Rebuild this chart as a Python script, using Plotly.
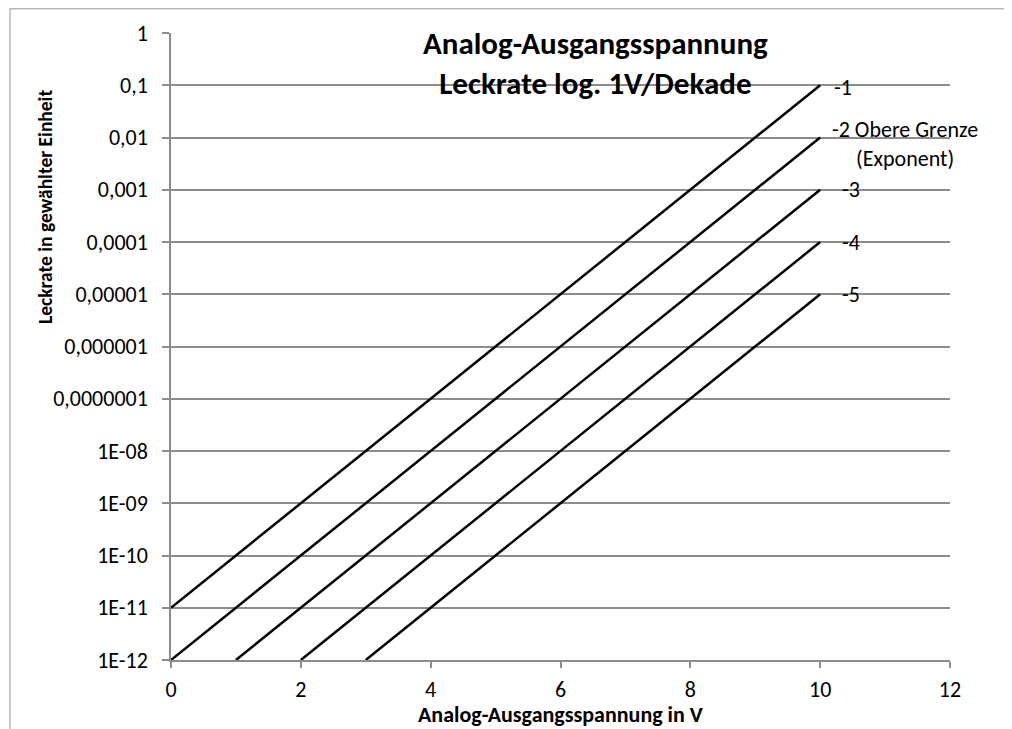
import math
import plotly.graph_objects as go

# ---- data ----
series_labels = ["-1", "-2 Obere Grenze<br>(Exponent)", "-3", "-4", "-5"]
x_start = [0, 0, 1, 2, 3]
y_start = [1e-11, 1e-12, 1e-12, 1e-12, 1e-12]
x_end = [10, 10, 10, 10, 10]
y_end = [0.1, 0.01, 0.001, 0.0001, 0.00001]

y_tickvals = [1, 0.1, 0.01, 0.001, 0.0001, 0.00001, 0.000001, 0.0000001,
              1e-8, 1e-9, 1e-10, 1e-11, 1e-12]
y_ticktext = ["1", "0,1", "0,01", "0,001", "0,0001", "0,00001", "0,000001",
              "0,0000001", "1E-08", "1E-09", "1E-10", "1E-11", "1E-12"]
x_tickvals = [0, 2, 4, 6, 8, 10, 12]

title_lines = ["Analog-Ausgangsspannung", "Leckrate log. 1V/Dekade"]
x_title = "Analog-Ausgangsspannung in V"
y_title = "Leckrate in gewählter Einheit"

# ---- style ----
FONT = "Carlito, Lato, sans-serif"
GRID = "#8c8c8c"
label_xshift = [12, 10, 20, 20, 20]
label_yshift = [-2, -6, 0, 0, 0]

OFF = 8  # page body margin
W, H = 1012, 729
# target screen positions of plot area
SX0, SX1, SY0, SY1 = 171, 950, 33, 660
L, T = SX0 - OFF, SY0 - OFF
R, B = W - (SX1 - OFF), H - (SY1 - OFF)
pw, ph = W - L - R, H - T - B

def px_to_paper_x(p):
    return (p - OFF - L) / pw

def px_to_paper_y(p):
    return (H - B - (p - OFF)) / ph

fig = go.Figure()
for xs, ys, xe, ye, name in zip(x_start, y_start, x_end, y_end, series_labels):
    fig.add_trace(go.Scatter(x=[xs, xe], y=[ys, ye], mode="lines",
                             line=dict(color="black", width=2.5),
                             name=name, showlegend=False, hoverinfo="skip"))

annotations = []
for xe, ye, name, dx, dy in zip(x_end, y_end, series_labels, label_xshift, label_yshift):
    annotations.append(dict(x=xe, y=math.log10(ye), yref="y", xref="x", text=name,
                            showarrow=False, xanchor="left", yanchor="middle", align="center",
                            xshift=dx, yshift=dy,
                            font=dict(family=FONT, size=22, color="black")))

annotations.append(dict(x=px_to_paper_x(595), y=px_to_paper_y(63), xref="paper", yref="paper",
                        text="<b>" + "<br>".join(title_lines) + "</b>",
                        showarrow=False, xanchor="center", yanchor="middle", align="center",
                        font=dict(family=FONT, size=31, color="black")))

annotations.append(dict(x=px_to_paper_x(560), y=px_to_paper_y(714), xref="paper", yref="paper",
                        text="<b>" + x_title + "</b>",
                        showarrow=False, xanchor="center", yanchor="middle",
                        font=dict(family=FONT, size=22, color="black")))

annotations.append(dict(x=px_to_paper_x(45), y=px_to_paper_y(207), xref="paper", yref="paper",
                        text="<b>" + y_title + "</b>", textangle=-90,
                        showarrow=False, xanchor="center", yanchor="middle",
                        font=dict(family=FONT, size=19.5, color="black")))

fig.update_layout(
    width=W, height=H,
    margin=dict(l=L, r=R, t=T, b=B, pad=0),
    paper_bgcolor="white", plot_bgcolor="white",
    font=dict(family=FONT, size=22, color="black"),
    annotations=annotations,
    shapes=[dict(type="rect", xref="paper", yref="paper",
                 x0=px_to_paper_x(10), x1=px_to_paper_x(1040),
                 y0=px_to_paper_y(760), y1=px_to_paper_y(8.75),
                 line=dict(color="#b8b8b8", width=1.5), layer="below")],
)

fig.update_xaxes(range=[0, 12], tickvals=x_tickvals, showgrid=False, zeroline=False,
                 showline=True, linecolor=GRID, linewidth=1.5,
                 ticks="outside", ticklen=6, tickcolor=GRID, tickwidth=1.5,
                 ticklabelstandoff=3,
                 tickfont=dict(family=FONT, size=22, color="black"))

fig.update_yaxes(type="log", range=[-12, 0], tickvals=y_tickvals, ticktext=y_ticktext,
                 showgrid=True, gridcolor=GRID, gridwidth=1.5, zeroline=False,
                 showline=True, linecolor=GRID, linewidth=1.5,
                 ticks="outside", ticklen=7, tickcolor=GRID, tickwidth=1.5,
                 ticklabelstandoff=10,
                 tickfont=dict(family=FONT, size=22, color="black"))

fig.write_html("out.html")
